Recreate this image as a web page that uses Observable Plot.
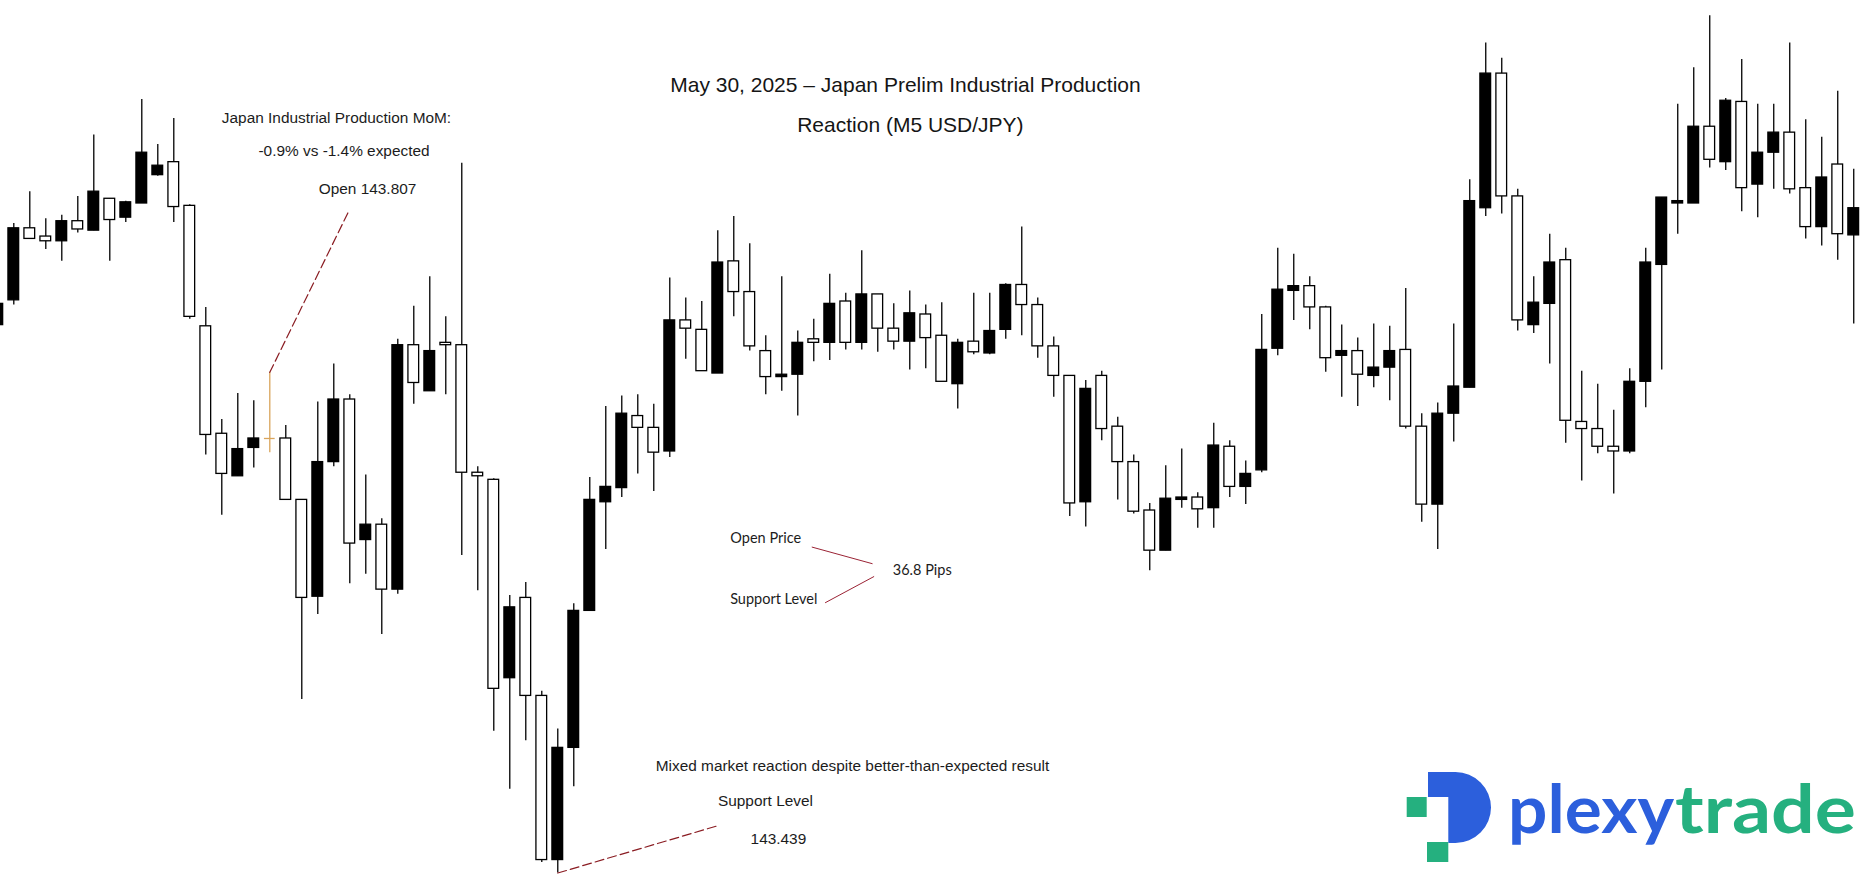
<!DOCTYPE html>
<html><head><meta charset="utf-8">
<script src="https://cdn.jsdelivr.net/npm/d3@7"></script>
<script src="https://cdn.jsdelivr.net/npm/@observablehq/plot@0.6"></script>
<style>
html,body{margin:0;padding:0;background:#fff;}
#wrap{position:relative;width:1867px;height:884px;overflow:hidden;}
#logo{position:absolute;left:0;top:0;pointer-events:none;}
</style>
</head><body><div id="wrap"></div>
<script>
// M5 USD/JPY candles (index 17 = release candle, open 143.807)
const opens = [
143.903, 143.924, 143.985, 143.978, 143.974, 143.991, 143.983, 144.010, 143.994, 144.006,
144.030, 144.041, 144.004, 143.902, 143.811, 143.775, 143.799, 143.807, 143.807, 143.755,
143.673, 143.787, 143.840, 143.721, 143.734, 143.679, 143.886, 143.847, 143.888, 143.886,
143.778, 143.772, 143.604, 143.672, 143.589, 143.450, 143.545, 143.661, 143.753, 143.765,
143.826, 143.816, 143.796, 143.907, 143.899, 143.862, 143.957, 143.931, 143.881, 143.859,
143.861, 143.891, 143.888, 143.923, 143.888, 143.929, 143.900, 143.889, 143.912, 143.894,
143.853, 143.889, 143.879, 143.899, 143.937, 143.920, 143.885, 143.860, 143.753, 143.860,
143.817, 143.787, 143.746, 143.712, 143.755, 143.757, 143.748, 143.800, 143.766, 143.780,
143.883, 143.932, 143.936, 143.918, 143.877, 143.881, 143.860, 143.867, 143.882, 143.817,
143.751, 143.828, 143.850, 144.002, 144.116, 144.012, 143.903, 143.921, 143.958, 143.821,
143.815, 143.800, 143.796, 143.855, 143.954, 144.006, 144.006, 144.071, 144.041, 144.092,
144.022, 144.049, 144.066, 144.019, 143.986, 144.039, 143.979];
const highs = [
143.921, 143.989, 144.016, 143.993, 143.996, 144.012, 144.064, 144.010, 144.008, 144.094,
144.056, 144.078, 144.005, 143.918, 143.823, 143.845, 143.839, 143.863, 143.818, 143.755,
143.838, 143.870, 143.844, 143.776, 143.739, 143.891, 143.919, 143.944, 143.910, 144.040,
143.783, 143.773, 143.674, 143.685, 143.593, 143.561, 143.667, 143.774, 143.834, 143.843,
143.844, 143.836, 143.943, 143.926, 143.923, 143.983, 143.995, 143.972, 143.894, 143.944,
143.898, 143.908, 143.946, 143.930, 143.966, 143.929, 143.921, 143.932, 143.920, 143.922,
143.891, 143.930, 143.930, 143.938, 143.986, 143.926, 143.893, 143.860, 143.856, 143.864,
143.825, 143.793, 143.752, 143.784, 143.798, 143.761, 143.820, 143.805, 143.788, 143.912,
143.968, 143.963, 143.944, 143.919, 143.903, 143.892, 143.904, 143.902, 143.934, 143.828,
143.837, 143.904, 144.026, 144.142, 144.129, 144.018, 143.944, 143.980, 143.968, 143.864,
143.853, 143.831, 143.866, 143.968, 144.011, 144.090, 144.121, 144.165, 144.095, 144.128,
144.090, 144.090, 144.142, 144.077, 144.062, 144.101, 144.035];
const lows = [
143.903, 143.920, 143.976, 143.967, 143.957, 143.981, 143.983, 143.957, 143.990, 144.006,
144.029, 143.990, 143.908, 143.793, 143.742, 143.775, 143.782, 143.795, 143.755, 143.586,
143.658, 143.783, 143.684, 143.692, 143.641, 143.675, 143.836, 143.847, 143.844, 143.708,
143.678, 143.559, 143.510, 143.551, 143.448, 143.439, 143.512, 143.661, 143.713, 143.757,
143.777, 143.762, 143.791, 143.874, 143.864, 143.862, 143.910, 143.881, 143.844, 143.847,
143.826, 143.872, 143.873, 143.882, 143.882, 143.880, 143.882, 143.865, 143.866, 143.855,
143.832, 143.878, 143.878, 143.891, 143.894, 143.875, 143.842, 143.741, 143.732, 143.805,
143.755, 143.743, 143.695, 143.712, 143.748, 143.731, 143.731, 143.757, 143.751, 143.778,
143.877, 143.907, 143.899, 143.863, 143.842, 143.834, 143.850, 143.839, 143.815, 143.736,
143.713, 143.804, 143.850, 143.995, 143.997, 143.898, 143.896, 143.870, 143.803, 143.771,
143.794, 143.760, 143.794, 143.833, 143.865, 143.980, 144.006, 144.036, 144.034, 143.999,
143.994, 144.018, 144.014, 143.976, 143.970, 143.958, 143.904];
const closes = [
143.921, 143.985, 143.976, 143.974, 143.991, 143.984, 144.016, 143.992, 144.007, 144.049,
144.038, 144.003, 143.910, 143.810, 143.777, 143.798, 143.807, 143.807, 143.755, 143.672,
143.787, 143.840, 143.718, 143.734, 143.679, 143.886, 143.854, 143.881, 143.886, 143.778,
143.775, 143.595, 143.664, 143.589, 143.450, 143.545, 143.661, 143.755, 143.766, 143.828,
143.816, 143.795, 143.907, 143.900, 143.864, 143.956, 143.931, 143.885, 143.859, 143.861,
143.888, 143.888, 143.921, 143.888, 143.929, 143.900, 143.889, 143.913, 143.892, 143.855,
143.888, 143.880, 143.898, 143.937, 143.920, 143.885, 143.860, 143.752, 143.849, 143.815,
143.787, 143.745, 143.712, 143.756, 143.757, 143.747, 143.801, 143.766, 143.777, 143.882,
143.933, 143.936, 143.918, 143.875, 143.881, 143.861, 143.867, 143.881, 143.817, 143.751,
143.828, 143.851, 144.008, 144.116, 144.012, 143.907, 143.922, 143.956, 143.822, 143.815,
143.800, 143.796, 143.855, 143.956, 144.011, 144.008, 144.071, 144.043, 144.093, 144.019,
144.049, 144.066, 144.018, 143.986, 144.028, 143.980, 144.002];

const eventIndex = 17;
const openPrice = 143.807;
const supportPrice = 143.439;
const supportIndex = 35;

const titleLines = ["May 30, 2025 – Japan Prelim Industrial Production", "Reaction (M5 USD/JPY)"];
const releaseLines = ["Japan Industrial Production MoM:", "-0.9% vs -1.4% expected", "Open 143.807"];
const bottomLines = ["Mixed market reaction despite better-than-expected result", "Support Level", "143.439"];
const pipLabels = ["Open Price", "36.8 Pips", "Support Level"];

const candles = opens.map((o, i) => ({i, open: o, high: highs[i], low: lows[i], close: closes[i]}));
const normal = candles.filter(d => d.i !== eventIndex);
const evt = candles.filter(d => d.i === eventIndex);

const ORANGE = "#d9a55c";
const RED = "#9b2335";
const DASHRED = "#8a1c22";
const SANS = "'Liberation Sans', Arial, sans-serif";
const HALF = 0.335;

const titleData = [
  {x: 56.73, y: 144.106, t: titleLines[0]},
  {x: 57.04, y: 144.072, t: titleLines[1]}
];
const releaseData = [
  {x: 21.17, y: 144.078, t: releaseLines[0]},
  {x: 21.64, y: 144.050, t: releaseLines[1]},
  {x: 23.11, y: 144.018, t: releaseLines[2]}
];
const bottomData = [
  {x: 53.42, y: 143.530, t: bottomLines[0]},
  {x: 47.98, y: 143.500, t: bottomLines[1]},
  {x: 48.79, y: 143.468, t: bottomLines[2]}
];
const pipData = [
  {x: 48.00, y: 143.722, t: pipLabels[0]},
  {x: 57.78, y: 143.695, t: pipLabels[1]},
  {x: 48.50, y: 143.671, t: pipLabels[2]}
];

const chart = Plot.plot({
  width: 1867, height: 884, margin: 0,
  x: {domain: [0.169, 116.86], axis: null},
  y: {domain: [143.4293, 144.1779], axis: null},
  style: {background: "white", overflow: "visible"},
  marks: [
    Plot.ruleX(candles, {x: "i", y1: "low", y2: "high", stroke: d => d.i === eventIndex ? ORANGE : "black", strokeWidth: 1.3}),
    Plot.rect(normal, {
      x1: d => d.i - HALF, x2: d => d.i + HALF,
      y1: d => Math.min(d.open, d.close), y2: d => Math.max(d.open, d.close),
      fill: d => d.close > d.open ? "black" : "white", stroke: "black", strokeWidth: 1.3
    }),
    Plot.ruleY(evt, {y: "open", x1: d => d.i - HALF, x2: d => d.i + HALF, stroke: ORANGE, strokeWidth: 1.3}),
    // release annotation
    Plot.line([[21.88, 143.998], [eventIndex, highs[eventIndex]]], {stroke: DASHRED, strokeWidth: 1.2, strokeDasharray: "9,4"}),
    // support annotation
    Plot.line([[supportIndex, supportPrice], [44.98, 143.479]], {stroke: DASHRED, strokeWidth: 1.2, strokeDasharray: "9,4"}),
    // pips bracket
    Plot.line([[50.90, 143.715], [54.65, 143.701]], {stroke: RED, strokeWidth: 1}),
    Plot.line([[54.75, 143.690], [51.73, 143.668]], {stroke: RED, strokeWidth: 1}),
    Plot.text(titleData, {x: "x", y: "y", text: "t", fontSize: 21, fontFamily: SANS, fill: "#151515"}),
    Plot.text(releaseData, {x: "x", y: "y", text: "t", fontSize: 15.4, fontFamily: SANS, fill: "#1c1c1c"}),
    Plot.text(bottomData, {x: "x", y: "y", text: "t", fontSize: 15.4, fontFamily: SANS, fill: "#1c1c1c"}),
    Plot.text(pipData, {x: "x", y: "y", text: "t", fontSize: 14.5, fontFamily: "Lato, 'Open Sans', sans-serif", fill: "#1c1c1c"})
  ]
});
const wrap = document.getElementById("wrap");
wrap.appendChild(chart);

// brand logo
const logo = `<svg id="logo" width="1867" height="884" xmlns="http://www.w3.org/2000/svg">
  <path d="M1428,772 H1455.5 A35.5,35.5 0 0 1 1455.5,843 H1448.3 V797 H1428 Z" fill="#2c5fdc"/>
  <rect x="1406.7" y="797" width="20" height="20" fill="#25b07f"/>
  <rect x="1427" y="842" width="21.3" height="20" fill="#25b07f"/>
  <text x="1508" y="833" font-family="Lato, Inter, sans-serif" font-weight="700" font-size="67" fill="#2c5fdc" textLength="166" lengthAdjust="spacingAndGlyphs">plexy</text>
  <text x="1675" y="833" font-family="Lato, Inter, sans-serif" font-weight="700" font-size="67" fill="#25b07f" textLength="181" lengthAdjust="spacingAndGlyphs">trade</text>
</svg>`;
wrap.insertAdjacentHTML("beforeend", logo);
</script>
</body></html>
